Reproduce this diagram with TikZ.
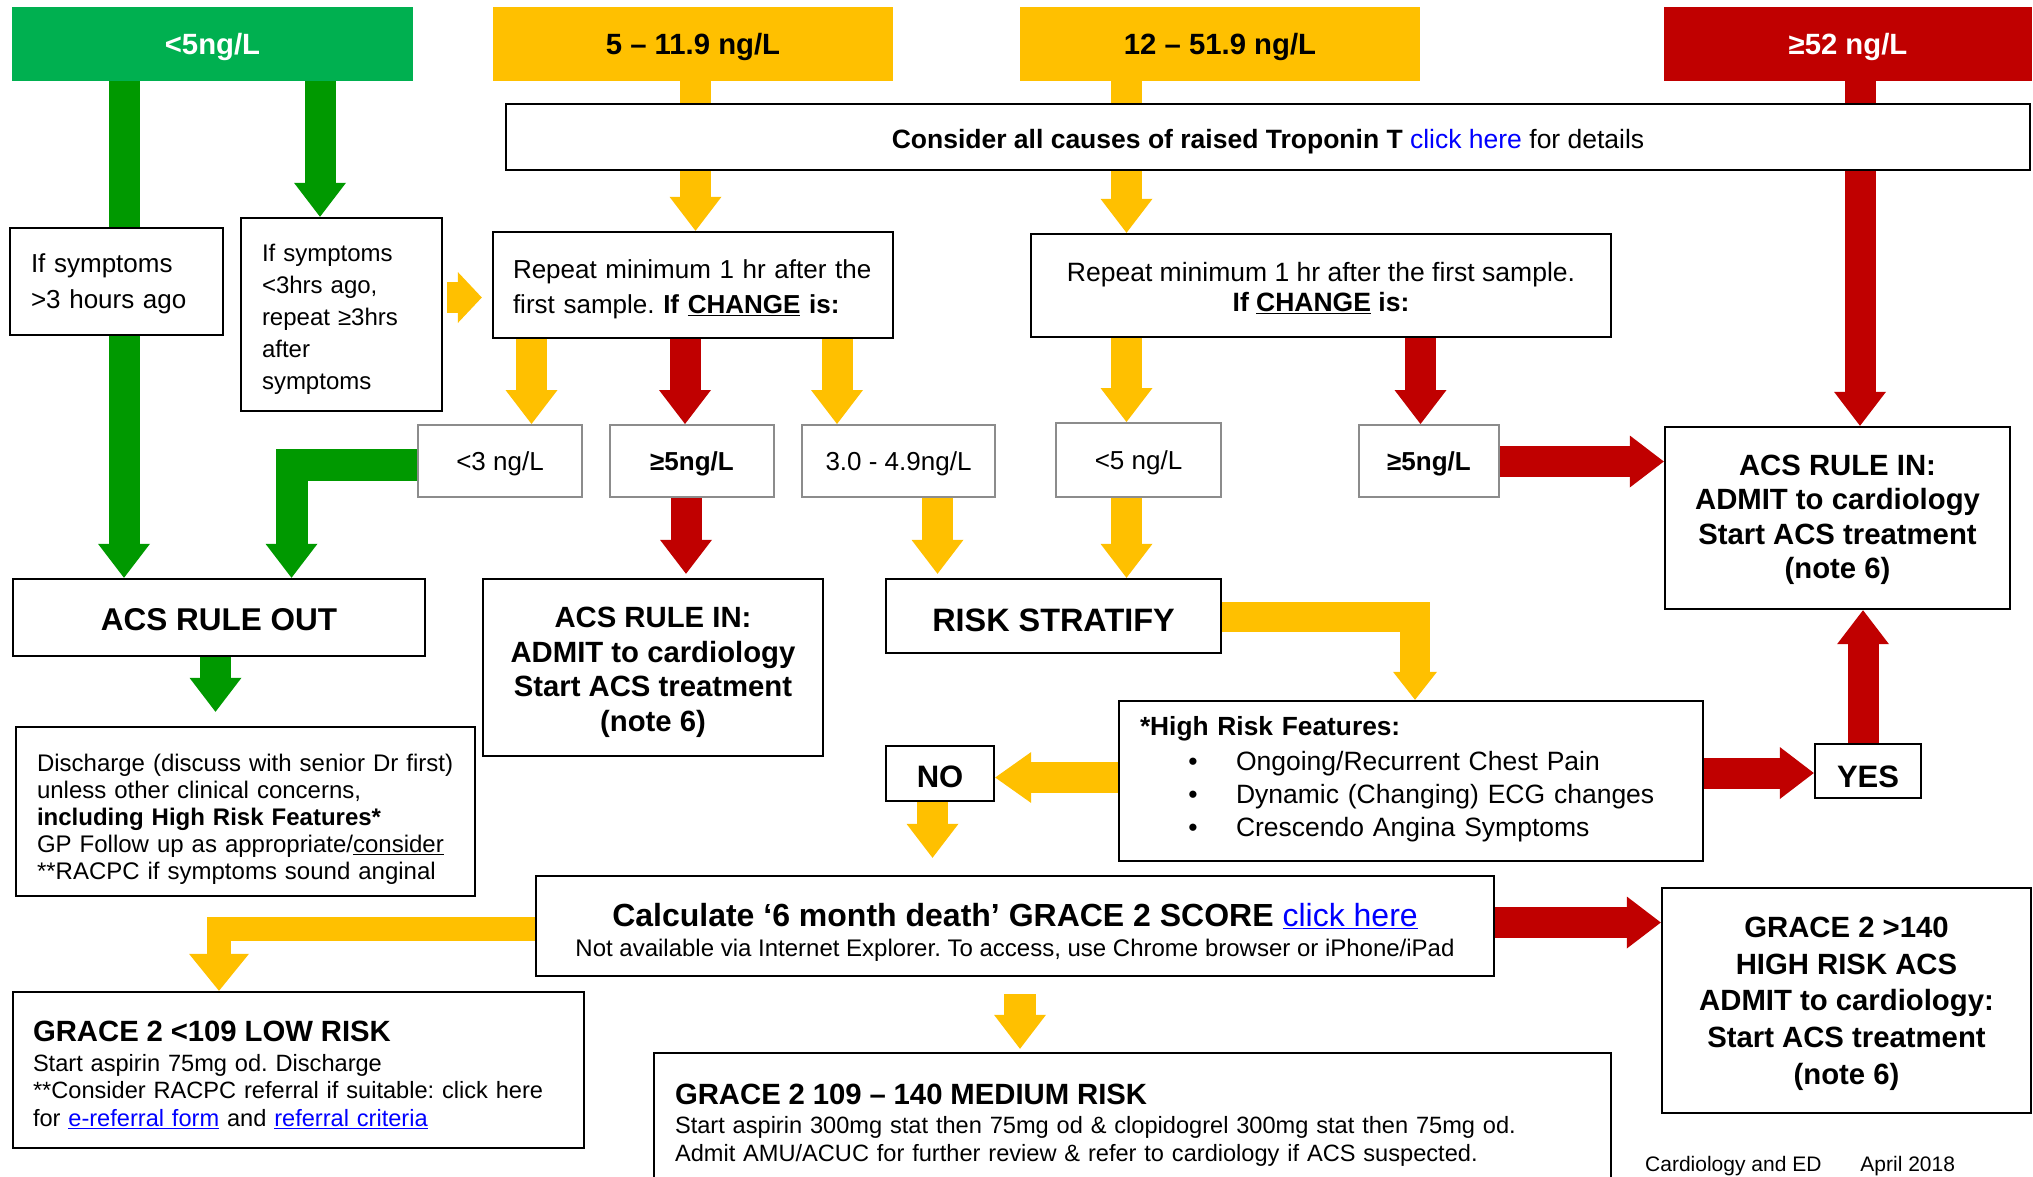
\documentclass[tikz,border=0pt]{standalone}
\usepackage{fontspec}
\setmainfont{Liberation Sans}
\usetikzlibrary{arrows.meta,backgrounds,calc}
\definecolor{hgreen}{HTML}{00B050}
\definecolor{agreen}{HTML}{009900}
\definecolor{ayellow}{HTML}{FFC000}
\definecolor{ared}{HTML}{C00000}
\definecolor{lnk}{HTML}{0000FF}
\newcommand{\myfs}[2]{\fontsize{#1}{#2}\selectfont}
\newcommand{\mystrut}[1]{\rule{0pt}{#1pt}}
\frenchspacing
\begin{document}
\frenchspacing
\begin{tikzpicture}[x=1pt,y=-1pt,
  box/.style={draw=black, line width=2.4pt, fill=white, inner sep=0pt},
  gbox/.style={draw=black!45, line width=2pt, fill=white, inner sep=0pt, minimum height=72pt, font={\myfs{26}{30}}},
  hdr/.style={inner sep=0pt, minimum height=74pt, font={\myfs{29.3}{32}\bfseries}},
  shaft/.style={line width=31pt},
  tipA/.style={-{Triangle[width=52pt,length=34pt,line width=0pt]}},
  ga/.style={draw=agreen, shaft, tipA},
  ya/.style={draw=ayellow, shaft, tipA},
  ra/.style={draw=ared, shaft, tipA},
  ys/.style={draw=ayellow, shaft},
]
\useasboundingbox (0,0) rectangle (2033,1176);

% headers
\node[hdr, fill=hgreen, text=white, minimum width=401pt] (h1) at (212.5,44) {\mystrut{27.6}<5ng/L};
\node[hdr, fill=ayellow, minimum width=400pt] (h2) at (693,44) {\mystrut{27.6}5 – 11.9 ng/L};
\node[hdr, fill=ayellow, minimum width=400pt] (h3) at (1220,44) {\mystrut{27.6}12 – 51.9 ng/L};
\node[hdr, fill=ared, text=white, minimum width=368pt] (h4) at (1848,44) {\mystrut{27.6}≥52 ng/L};

\node[box, minimum width=1524pt, minimum height=66pt, font={\myfs{26.5}{30}}] (consider) at (1268,137)
  {\mystrut{29.3}\textbf{Consider all causes of raised Troponin T} \textcolor{lnk}{click here} for details};

\node[box, minimum width=213pt, minimum height=107pt, text width=171pt, align=left, font={\myfs{26}{36}}] (s3) at (116.5,281.5)
  {\mystrut{24.2}If symptoms\\>3 hours ago};
\node[box, minimum width=201pt, minimum height=193pt, text width=159pt, align=left, font={\myfs{24}{32}}] (s3b) at (341.5,314.5)
  {\mystrut{27.5}If symptoms\\<3hrs ago,\\repeat ≥3hrs\\after\\symptoms};
\node[box, minimum width=400pt, minimum height=106pt, text width=360pt, align=left, font={\myfs{26}{35}}] (rep1) at (693,285)
  {\mystrut{27}Repeat minimum 1 hr after the\\first sample. \textbf{If \underline{CHANGE} is:}};
\node[box, minimum width=580pt, minimum height=103pt, align=center, font={\myfs{26.5}{30}}] (rep2) at (1321,285.5)
  {\mystrut{24.5}Repeat minimum 1 hr after the first sample.\\\textbf{If \underline{CHANGE} is:}};

% small result boxes
\node[gbox, minimum width=164pt] (lt3) at (500,461) {\mystrut{24.2}<3 ng/L};
\node[gbox, minimum width=164pt] (ge5a) at (692,461) {\mystrut{24.2}\textbf{≥5ng/L}};
\node[gbox, minimum width=193pt] (r34) at (898.5,461) {\mystrut{24.2}3.0 - 4.9ng/L};
\node[gbox, minimum width=165pt, minimum height=74pt] (lt5) at (1138.5,460) {\mystrut{24.2}<5 ng/L};
\node[gbox, minimum width=140pt] (ge5b) at (1429,461) {\mystrut{24.2}\textbf{≥5ng/L}};

\node[box, minimum width=345pt, minimum height=182pt, align=center, font={\myfs{29.3}{34.5}\bfseries}] (ruleinR) at (1837.5,518)
  {\mystrut{24.2}ACS RULE IN:\\ADMIT to cardiology\\Start ACS treatment\\(note 6)};
\node[box, minimum width=412pt, minimum height=77pt, font={\myfs{31.5}{34}\bfseries}] (ruleout) at (219,617.5) {\mystrut{26.7}ACS RULE OUT};
\node[box, minimum width=459pt, minimum height=169pt, text width=417pt, align=left, font={\myfs{24}{27}}] (discharge) at (245.5,811.5)
  {\mystrut{33.5}Discharge (discuss with senior Dr first)\\unless other clinical concerns,\\\textbf{including High Risk Features*}\\GP Follow up as appropriate/\underline{consider}\\{}**RACPC if symptoms sound anginal};
\node[box, minimum width=340pt, minimum height=177pt, align=center, font={\myfs{29.3}{34.5}\bfseries}] (ruleinM) at (653,667.5)
  {\mystrut{29.6}ACS RULE IN:\\ADMIT to cardiology\\Start ACS treatment\\(note 6)};
\node[box, minimum width=335pt, minimum height=74pt, font={\myfs{32.4}{35}\bfseries}] (risk) at (1053.5,616) {\mystrut{32}RISK STRATIFY};

\node[box, minimum width=584pt, minimum height=160pt, text width=542pt, align=left, font={\myfs{26.5}{33}}] (hrf) at (1411,781)
  {{\myfs{26.3}{30}\bfseries *High Risk Features:}\\[1.5pt]
   \hspace*{53pt}\makebox[0pt]{\textbullet}\hspace*{43pt}Ongoing/Recurrent Chest Pain\\
   \hspace*{53pt}\makebox[0pt]{\textbullet}\hspace*{43pt}Dynamic (Changing) ECG changes\\
   \hspace*{53pt}\makebox[0pt]{\textbullet}\hspace*{43pt}Crescendo Angina Symptoms\rule[-9pt]{0pt}{0pt}};
\node[box, minimum width=108pt, minimum height=55pt, font={\myfs{31}{34}\bfseries}] (no) at (940,773.5) {\mystrut{28}NO};
\node[box, minimum width=106pt, minimum height=54pt, font={\myfs{31}{34}\bfseries}] (yes) at (1868,771) {\mystrut{33.2}YES};

\node[box, minimum width=958pt, minimum height=100pt, align=center, font={\myfs{24}{30}}] (calc) at (1015,926)
  {{\myfs{32}{36}\mystrut{35.4}\textbf{Calculate ‘6 month death’ GRACE 2 SCORE} \textcolor{lnk}{\underline{click here}}}\\Not available via Internet Explorer. To access, use Chrome browser or iPhone/iPad};

\node[box, minimum width=571pt, minimum height=156pt, text width=531pt, align=left, font={\myfs{23.6}{27.5}}] (low) at (298.5,1070)
  {{\myfs{29.3}{30}\bfseries\mystrut{29.6}GRACE 2 <109 LOW RISK}\\[2.5pt]Start aspirin 75mg od. Discharge\\{}**Consider RACPC referral if suitable: click here\\for \textcolor{lnk}{\underline{e-referral form}} and \textcolor{lnk}{\underline{referral criteria}}};
\node[box, minimum width=957pt, minimum height=136pt, text width=915pt, align=left, font={\myfs{23.6}{28}}] (med) at (1132.5,1121)
  {{\myfs{29.3}{30}\bfseries\mystrut{28.6}GRACE 2 109 – 140 MEDIUM RISK}\\[1pt]Start aspirin 300mg stat then 75mg od \& clopidogrel 300mg stat then 75mg od.\\Admit AMU/ACUC for further review \& refer to cardiology if ACS suspected.};
\node[box, minimum width=369pt, minimum height=225pt, align=center, font={\myfs{29.3}{36.75}\bfseries}] (high) at (1846.5,1000.5)
  {\mystrut{26.8}GRACE 2 >140\\HIGH RISK ACS\\ADMIT to cardiology:\\Start ACS treatment\\(note 6)};

\node[anchor=base west, inner sep=0pt, font={\myfs{21}{24}}] (foot) at (1645,1171) {Cardiology and ED\hspace*{39pt}April 2018};

\begin{pgfonlayer}{background}
\fill[white] (0,0) rectangle (2033,1176);
% green
\draw[ga] (h1.south -| 124,0) -- (ruleout.north -| 124,0);
\draw[ga] (h1.south -| 320,0) -- (s3b.north -| 320,0);
\draw[ga, line width=32pt, line join=miter] (lt3.west |- 0,465) -| (ruleout.north -| 291.5,0);
\draw[ga, shorten >=14pt] (ruleout.south -| 215.5,0) -- (discharge.north -| 215.5,0);
% top
\draw[ys] (h2.south -| 695.5,0) -- (consider.north -| 695.5,0);
\draw[ya] (consider.south -| 695.5,0) -- (rep1.north -| 695.5,0);
\draw[ys] (h3.south -| 1126.5,0) -- (consider.north -| 1126.5,0);
\draw[ya] (consider.south -| 1126.5,0) -- (rep2.north -| 1126.5,0);
\draw[ra] (h4.south -| 1860,0) -- (ruleinR.north -| 1860,0);
\draw[ya, -{Triangle[width=51pt,length=24pt,line width=0pt]}, shorten <=4pt, shorten >=10pt] (s3b.east |- 0,297.5) -- (rep1.west |- 0,297.5);
% from repeats
\draw[ya] (rep1.south -| 531.5,0) -- (lt3.north -| 531.5,0);
\draw[ra] (rep1.south -| 685,0) -- (ge5a.north -| 685,0);
\draw[ya] (rep1.south -| 837,0) -- (r34.north -| 837,0);
\draw[ya] (rep2.south -| 1126.5,0) -- (lt5.north -| 1126.5,0);
\draw[ra] (rep2.south -| 1420.5,0) -- (ge5b.north -| 1420.5,0);
\draw[ra] (ge5b.east |- 0,461.5) -- (ruleinR.west |- 0,461.5);
\draw[ra, shorten >=4pt] (ge5a.south -| 686,0) -- (ruleinM.north -| 686,0);
\draw[ya, shorten >=4pt] (r34.south -| 937.5,0) -- (risk.north -| 937.5,0);
\draw[ya] (lt5.south -| 1126.5,0) -- (risk.north -| 1126.5,0);
% risk stratify
\draw[ya, line width=30pt, line join=miter, -{Triangle[width=44pt,length=28pt,line width=0pt]}] (risk.east |- 0,616.5) -| (hrf.north -| 1415,0);
\draw[ya, -{Triangle[width=51pt,length=36pt,line width=0pt]}] (hrf.west |- 0,777.5) -- (no.east |- 0,777.5);
\draw[ra] (hrf.east |- 0,773) -- (yes.west |- 0,773);
\draw[ra] (yes.north -| 1863,0) -- (ruleinR.south -| 1863,0);
\draw[ya, shorten >=17pt] (no.south -| 932.5,0) -- (calc.north -| 932.5,0);
% grace
\draw[ya, line width=24pt, line join=miter, -{Triangle[width=60pt,length=37pt,line width=0pt]}] (calc.west |- 0,929) -| (low.north -| 219,0);
\draw[ra] (calc.east |- 0,922.5) -- (high.west |- 0,922.5);
\draw[ya, line width=32pt, shorten <=17pt, shorten >=3pt] (calc.south -| 1020,0) -- (med.north -| 1020,0);
\end{pgfonlayer}
\end{tikzpicture}
\end{document}
